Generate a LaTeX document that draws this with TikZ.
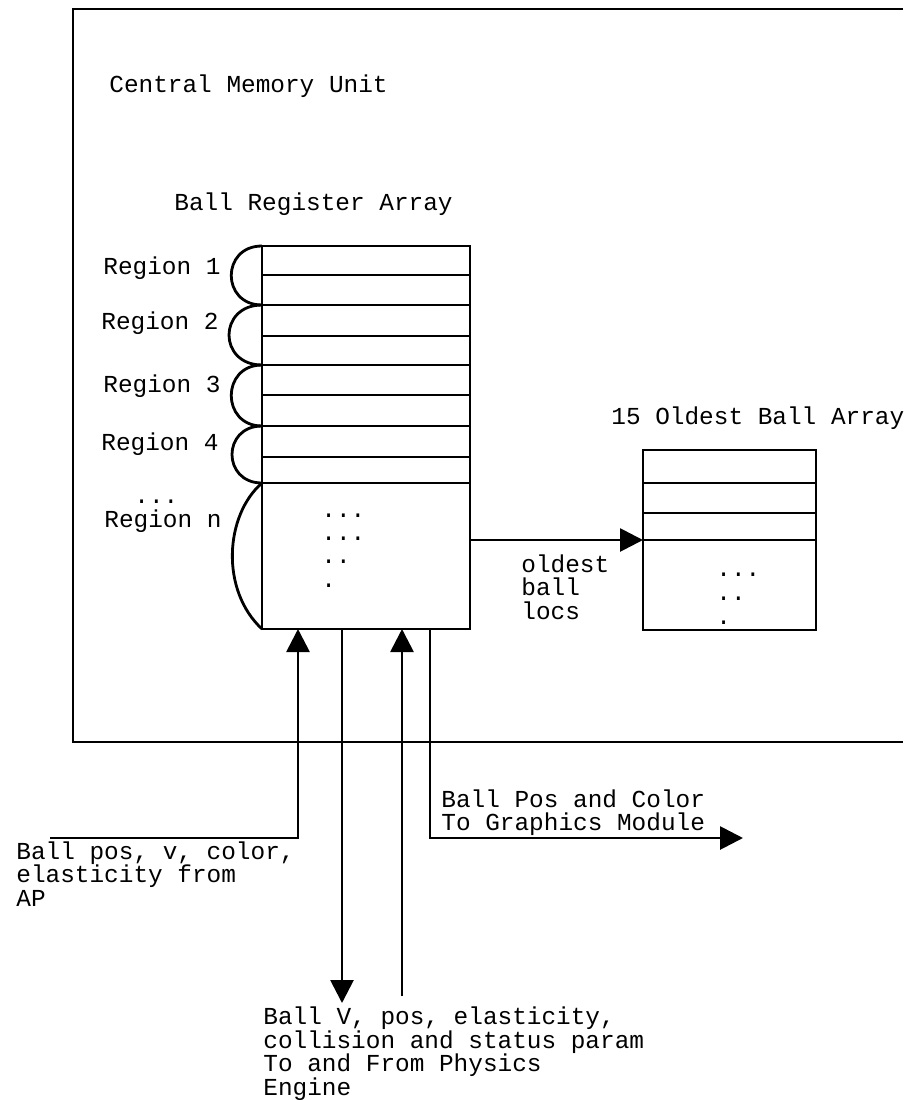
\documentclass[tikz,border=0pt]{standalone}
\usepackage{fontspec}
\setmonofont{Liberation Mono}
\usetikzlibrary{arrows.meta,calc}
\begin{document}
\begin{tikzpicture}[x=1pt,y=-1pt,line width=2.8pt,
  lbl/.style={font=\fontsize{24.4}{23.6}\selectfont\ttfamily,inner sep=0pt,anchor=base west},
  arr/.style={-{Triangle[length=23pt,width=23pt]}},
  boxnode/.style={draw,inner sep=0pt,outer sep=0pt,anchor=north west}]
\useasboundingbox (0,0) rectangle (903,1100);
% outer unit
\draw (903,9) -- (73,9) -- (73,742) -- (903,742);
\node[lbl] (cmu) at (108,92) {Central Memory Unit};
% ball register array
\node[lbl] (brat) at (173,210) {Ball Register Array};
\node[boxnode,minimum width=208pt,minimum height=383pt] (reg) at (262,246) {};
\foreach \yy in {275,305,336,365,395,426,457,483}
  \draw (reg.west |- 0,\yy) -- (reg.east |- 0,\yy);
% region braces
\draw (262,246) .. controls (221,246) and (221,305) .. (262,305);
\draw (262,305) .. controls (218,305) and (218,365) .. (262,365);
\draw (262,365) .. controls (221,365) and (221,426) .. (262,426);
\draw (262,426) .. controls (222,426) and (222,483) .. (262,483);
\draw (262,483) .. controls (225,515) and (220,590) .. (262,629);
\node[lbl] (r1) at (102,274) {Region 1};
\node[lbl] (r2) at (100,329) {Region 2};
\node[lbl] (r3) at (102,392) {Region 3};
\node[lbl] (r4) at (100,450) {Region 4};
\node[lbl] (rdots) at (133,503) {...};
\node[lbl] (rn) at (103,527) {Region n};
\node[lbl] (d1) at (320,517) {...};
\node[lbl] (d2) at (320,540) {...};
\node[lbl] (d3) at (320,563) {..};
\node[lbl] (d4) at (320,587) {.};
% oldest ball array
\node[lbl] (obat) at (610,424) {15 Oldest Ball Array};
\node[boxnode,minimum width=173pt,minimum height=180pt] (old) at (643,450) {};
\foreach \yy in {483,513,540}
  \draw (old.west |- 0,\yy) -- (old.east |- 0,\yy);
\node[lbl] (od1) at (715,576) {...};
\node[lbl] (od2) at (715,600) {..};
\node[lbl] (od3) at (715,624) {.};
\draw[arr] (reg.east |- 0,540) -- (old.west |- 0,540);
\node[lbl] (ol1) at (520,572) {oldest};
\node[lbl] (ol2) at (520,595) {ball};
\node[lbl] (ol3) at (520,619) {locs};
% AP input
\coordinate (apsrc) at (50,838);
\draw[arr] (apsrc) -| ($(reg.south west)+(36,0)$);
\node[lbl] (ap1) at (15,859) {Ball pos, v, color,};
\node[lbl] (ap2) at (15,882) {elasticity from};
\node[lbl] (ap3) at (15,906) {AP};
% physics engine
\coordinate (physdown) at (342,1003);
\coordinate (physup) at (402,996);
\draw[arr] ($(reg.south west)+(80,0)$) -- (physdown);
\draw[arr] (physup) -- ($(reg.south west)+(140,0)$);
\node[lbl] (ph1) at (262,1024) {Ball V, pos, elasticity,};
\node[lbl] (ph2) at (262,1048) {collision and status param};
\node[lbl] (ph3) at (262,1071) {To and From Physics};
\node[lbl] (ph4) at (262,1095) {Engine};
% graphics module
\coordinate (gfx) at (743,838);
\draw[arr] ($(reg.south west)+(168,0)$) |- (gfx);
\node[lbl] (g1) at (440,807) {Ball Pos and Color};
\node[lbl] (g2) at (440,830) {To Graphics Module};
\end{tikzpicture}
\end{document}
